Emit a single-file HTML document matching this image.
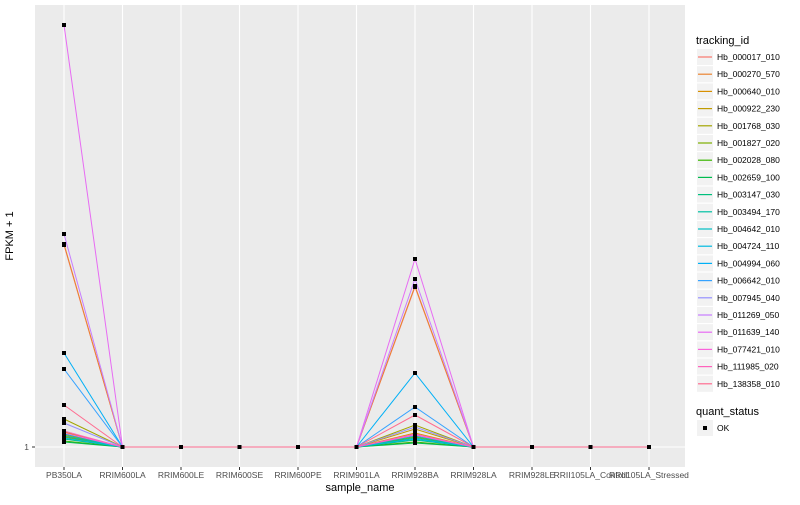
<!DOCTYPE html>
<html><head><meta charset="utf-8"><style>
body{margin:0;background:#fff;font-family:"Liberation Sans",sans-serif}
svg text{font-family:"Liberation Sans",sans-serif}
</style></head><body>
<svg id="c" width="800" height="500" xmlns="http://www.w3.org/2000/svg">
<rect x="0" y="0" width="800" height="500" fill="#fff"/>
<rect x="35" y="5" width="650" height="462" fill="#EBEBEB"/>
<g id="grid"></g><g id="lines"></g><g id="pts"></g><g id="axes"></g><g id="legend"></g>
<text x="13" y="236" font-size="11" text-anchor="middle" transform="rotate(-90 13 236)">FPKM + 1</text>
<text x="360" y="491" font-size="11" text-anchor="middle">sample_name</text>
</svg>
<script>
const categories=["PB350LA","RRIM600LA","RRIM600LE","RRIM600SE","RRIM600PE","RRIM901LA","RRIM928BA","RRIM928LA","RRIM928LE","RRII105LA_Control","RRII105LA_Stressed"];
const seriesNames=["Hb_000017_010","Hb_000270_570","Hb_000640_010","Hb_000922_230","Hb_001768_030","Hb_001827_020","Hb_002028_080","Hb_002659_100","Hb_003147_030","Hb_003494_170","Hb_004642_010","Hb_004724_110","Hb_004994_060","Hb_006642_010","Hb_007945_040","Hb_011269_050","Hb_011639_140","Hb_077421_010","Hb_111985_020","Hb_138358_010"];
const colors=["#F8766D","#EA8331","#D89000","#C09B00","#A3A500","#7CAE00","#39B600","#00BB4E","#00BF7D","#00C1A3","#00BFC4","#00BAE0","#00B0F6","#35A2FF","#9590FF","#C77CFF","#E76BF3","#FA62DB","#FF62BC","#FF6C90"];
const pb350Values=[203,204,16,13,29,11,7,6,9,12,14,10,95,79,25,214,423,15,17,43];
const rrim928baValues=[161,162,15,19,23,11,6,5,8,10,12,9,75,41,21,169,189,13,14,33];
const yTickLabels=["1"];
const yTickValues=[1];
const NS="http://www.w3.org/2000/svg";
function xs(i){return 64+i*58.5;}
function ys(v){return 447-(v-1);}
function mk(t,a,p){const e=document.createElementNS(NS,t);for(const k in a)e.setAttribute(k,a[k]);p.appendChild(e);return e;}
const grid=document.getElementById('grid'),lines=document.getElementById('lines'),pts=document.getElementById('pts'),axes=document.getElementById('axes'),leg=document.getElementById('legend');
categories.forEach((c,i)=>{
 const g=mk('line',{x1:xs(i),x2:xs(i),y1:5,y2:467,stroke:'#fff','stroke-width':1.1},grid);
 
 
 mk('line',{x1:xs(i),x2:xs(i),y1:467,y2:470,stroke:'#333'},axes);
 const t=mk('text',{x:xs(i),y:478,'font-size':8.5,'text-anchor':'middle',fill:'#4D4D4D'},axes);
 t.textContent=c;
 
 
});
yTickValues.forEach((v,i)=>{
 mk('line',{x1:35,x2:685,y1:ys(v),y2:ys(v),stroke:'#fff','stroke-width':1.1},grid);
 mk('line',{x1:32,x2:35,y1:ys(v),y2:ys(v),stroke:'#333'},axes);
 const t=mk('text',{x:29,y:ys(v)+3,'font-size':8.5,'text-anchor':'end',fill:'#4D4D4D'},axes);
 t.textContent=yTickLabels[i];
 
 
});
const allVals=seriesNames.map((s,k)=>categories.map((c,i)=>i===0?pb350Values[k]:(i===6?rrim928baValues[k]:1)));
allVals.forEach((vals,k)=>{
 const p=mk('polyline',{points:vals.map((v,i)=>xs(i)+','+ys(v)).join(' '),fill:'none',stroke:colors[k],'stroke-width':1},lines);
 
 
});
allVals.forEach((vals,k)=>{vals.forEach((v,i)=>{
 const r=mk('rect',{x:xs(i)-2,y:ys(v)-2,width:4,height:4,fill:'#000'},pts);
 
 
});});
let t=mk('text',{x:696,y:44,'font-size':11},leg);t.textContent='tracking_id';


seriesNames.forEach((s,k)=>{
 const y=57+k*17.2;
 mk('rect',{x:697,y:y-8,width:16,height:16,fill:'#F2F2F2'},leg);
 mk('line',{x1:698,x2:712,y1:y,y2:y,stroke:colors[k],'stroke-width':1.2},leg);
 const tx=mk('text',{x:717,y:y+3,'font-size':8.5},leg);tx.textContent=s;
 
 
});
t=mk('text',{x:696,y:415,'font-size':11},leg);t.textContent='quant_status';


mk('rect',{x:697,y:420,width:16,height:16,fill:'#F2F2F2'},leg);
mk('rect',{x:703,y:426,width:4,height:4,fill:'#000'},leg);
t=mk('text',{x:717,y:431,'font-size':8.5},leg);t.textContent='OK';


</script>
</body></html>
